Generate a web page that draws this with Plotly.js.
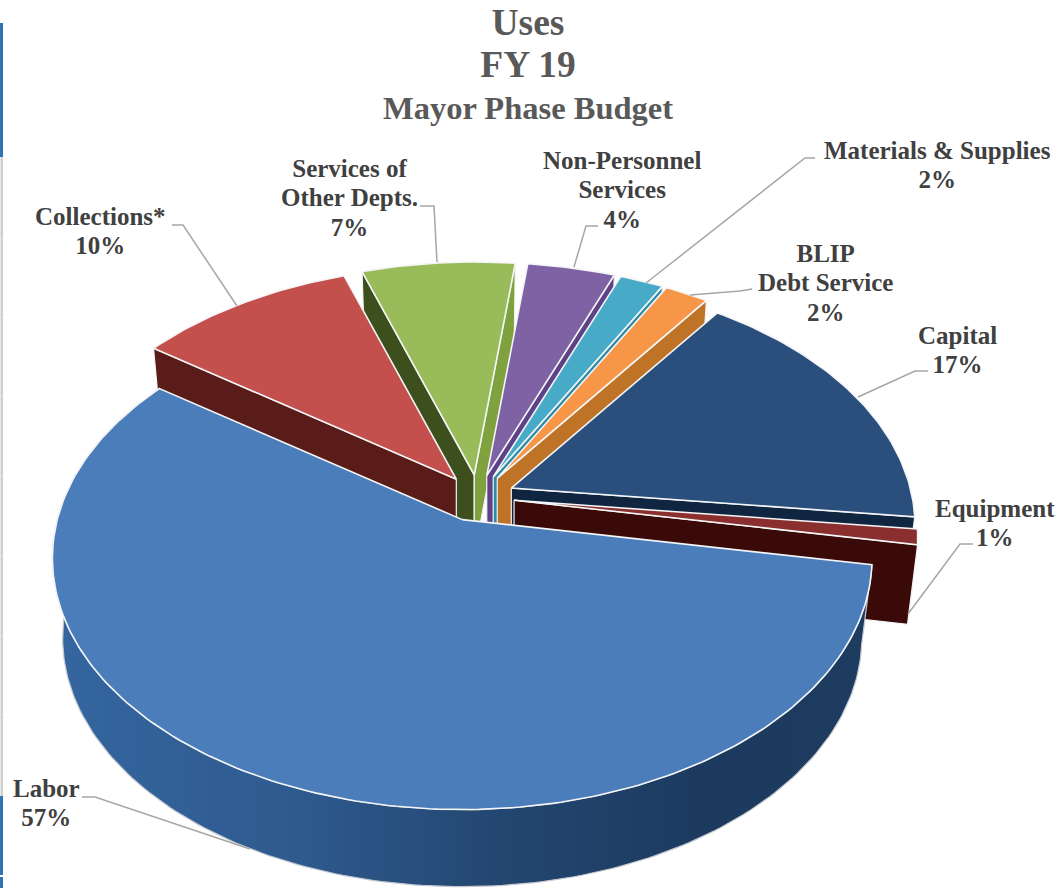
<!DOCTYPE html>
<html>
<head>
<meta charset="utf-8">
<script src="https://cdn.plot.ly/plotly-3.0.1.min.js"></script>
<style>html,body{margin:0;padding:0;background:#fff}#chart{width:1061px;height:888px}</style>
</head>
<body>
<div id="chart"></div>
<script>
// Budget shares, clockwise from the right-hand edge of Labor
const categories = ["Labor", "Collections*", "Services of<br>Other Depts.", "Non-Personnel<br>Services",
  "Materials & Supplies", "BLIP<br>Debt Service", "Capital", "Equipment"];
const shares = [57, 10, 7, 4, 2, 2, 17, 1];
const explode = [0.10, 0.09, 0.09, 0.09, 0.09, 0.09, 0.09, 0.09];
const reach = [1, 1, 1, 1, 1, 1, 0.985, 0.985];

const topColors = ["#4b7dbb", "#c4504e", "#9abb59", "#7f62a3", "#47abc8", "#f79646", "#2b4f7d", "#8a2e2e"];
const wallStart = [null, "#5a1c18", "#3c4f1c", null, null, null, null, null];
const wallEnd = [null, null, "#80a23e", "#5e4288", "#2d8ba5", "#bf7327", "#0f2540", "#3a0a08"];
const laborRim = [[0, "#3566a0"], [0.3, "#2e5a8e"], [0.55, "#234670"], [0.8, "#1c3a5e"], [1, "#1e3c60"]];

// Label placement and leader lines, in page pixels
const labelX = [46, 100, 349, 622, 937, 825, 957, 995];
const labelY = [803, 231, 198, 190, 165, 283, 350, 523];
const leaders = [
  [[82, 95, 250], [797, 797, 849]],
  [[172, 183, 237], [225, 225, 306]],
  [[420, 434, 437], [206, 206, 262]],
  [[598, 586, 574], [226, 226, 267]],
  [[815, 805, 646], [158, 158, 283]],
  [[752, 740, 690], [289, 291, 295]],
  [[928, 915, 858], [371, 371, 397]],
  [[973, 960, 908], [544, 544, 614]]
];

// Tilted-disc projection: semi-axes, foreshortening, and the lower plane of the extrusion
const cx = 478, cy = 497, rx = 405, ry = 245.6, persp = 0.153;
const baseScaleX = 0.975, baseScaleY = 0.99, baseDrop = 80;
const startDeg = 10.3, rad = Math.PI / 180;

function project(sl, deg, base) {
  const u = Math.cos(deg * rad), v = Math.sin(deg * rad), w = 1 - persp * v;
  const sx = (base ? baseScaleX : 1) * sl.reach, sy = (base ? baseScaleY : 1) * sl.reach, d = base ? baseDrop : 0;
  return [sl.ax + sx * rx * u / w, sl.ay + d + sy * ry * v / w];
}
function arc(sl, a0, a1, base) {
  const n = Math.max(2, Math.ceil(Math.abs(a1 - a0)));
  const pts = [];
  for (let i = 0; i <= n; i++) pts.push(project(sl, a0 + (a1 - a0) * i / n, base));
  return pts;
}
function polygon(pts, color, lineColor, width, gradient) {
  const t = {
    type: "scatter", mode: "lines", x: pts.map(p => p[0]), y: pts.map(p => p[1]),
    fill: "toself", fillcolor: color, line: {color: lineColor, width: width},
    hoverinfo: "skip", showlegend: false
  };
  if (gradient) {
    t.fillgradient = {type: "horizontal", colorscale: gradient};
    delete t.fillcolor;
  }
  return t;
}

// Angular extent and exploded apex of each slice
let running = startDeg;
const slices = shares.map((s, i) => {
  const a0 = running, a1 = running + s * 3.6, mid = (a0 + a1) / 2;
  running = a1;
  return {a0, a1, reach: reach[i],
    ax: cx + explode[i] * rx * Math.cos(mid * rad), ay: cy + explode[i] * ry * Math.sin(mid * rad)};
});

const traces = [];
function radialWall(sl, deg, color) {
  const top = project(sl, deg, false), bot = project(sl, deg, true);
  traces.push(polygon([[sl.ax, sl.ay], top, bot, [sl.ax, sl.ay + baseDrop], [sl.ax, sl.ay]], color, "#f2f3f5", 1.2));
}
// Painted from the back of the pie towards the viewer
[2, 1, 3, 4, 5, 6, 7, 0].forEach(i => {
  const sl = slices[i];
  if (wallStart[i]) radialWall(sl, sl.a0, wallStart[i]);
  if (wallEnd[i]) radialWall(sl, sl.a1, wallEnd[i]);
  if (i === 0) {
    const outer = arc(sl, sl.a0, sl.a1, false).concat(arc(sl, sl.a1, sl.a0, true));
    outer.push(outer[0]);
    traces.push(polygon(outer, "#2a4f7f", "#c4c9d0", 1.2, laborRim));
  }
  const top = [[sl.ax, sl.ay]].concat(arc(sl, sl.a0, sl.a1, false));
  top.push([sl.ax, sl.ay]);
  traces.push(polygon(top, topColors[i], "#f4f5f7", 1.6));
});
leaders.forEach(l => traces.push({
  type: "scatter", mode: "lines", x: l[0], y: l[1],
  line: {color: "#a6a6a6", width: 1.5}, hoverinfo: "skip", showlegend: false
}));

const labelFont = {family: "Liberation Serif, serif", size: 22.5, color: "#404040"};
const big = s => "<span style=\"font-size:25px\">" + s + "</span>";
const annotations = categories.map((c, i) => ({
  x: labelX[i], y: labelY[i], xref: "x", yref: "y", showarrow: false, align: "center",
  text: "<b>" + c.split("<br>").map(big).join("<br>") + "<br>" + big(shares[i] + "%") + "</b>", font: labelFont
}));

// Fragment of the page's ruled margin at the far left
const bar = (y0, y1, color, x0, x1) => ({type: "rect", xref: "x", yref: "y", x0: x0, x1: x1, y0: y0, y1: y1, fillcolor: color, line: {width: 0}, layer: "below"});
const shapes = [bar(23, 157, "#2e75b6", 0, 3), bar(157, 796, "#cfcfcf", 0.5, 3), bar(796, 875, "#2e75b6", 0, 3), bar(877, 888, "#2e75b6", 0, 3)]
  .concat([238, 317, 396, 476, 555, 635, 714].map(y => bar(y, y + 1, "#e4e4e4", 0, 3)));

const head = s => "<span style=\"font-size:37.5px\">" + s + "</span>";
Plotly.newPlot("chart", traces, {
  width: 1061, height: 888,
  margin: {l: 0, r: 0, t: 0, b: 0},
  paper_bgcolor: "#fff", plot_bgcolor: "#fff", showlegend: false,
  xaxis: {range: [0, 1061], visible: false, fixedrange: true},
  yaxis: {range: [888, 0], visible: false, fixedrange: true},
  title: {
    text: "<b>" + head("Uses") + "<br>" + head("FY 19") + "<br>Mayor Phase Budget</b>",
    x: 528 / 1061, xanchor: "center", y: 0.961, yanchor: "top",
    font: {family: "Liberation Serif, serif", size: 32.5, color: "#595959"}
  },
  annotations: annotations, shapes: shapes
}, {displayModeBar: false, staticPlot: true});
</script>
</body>
</html>
